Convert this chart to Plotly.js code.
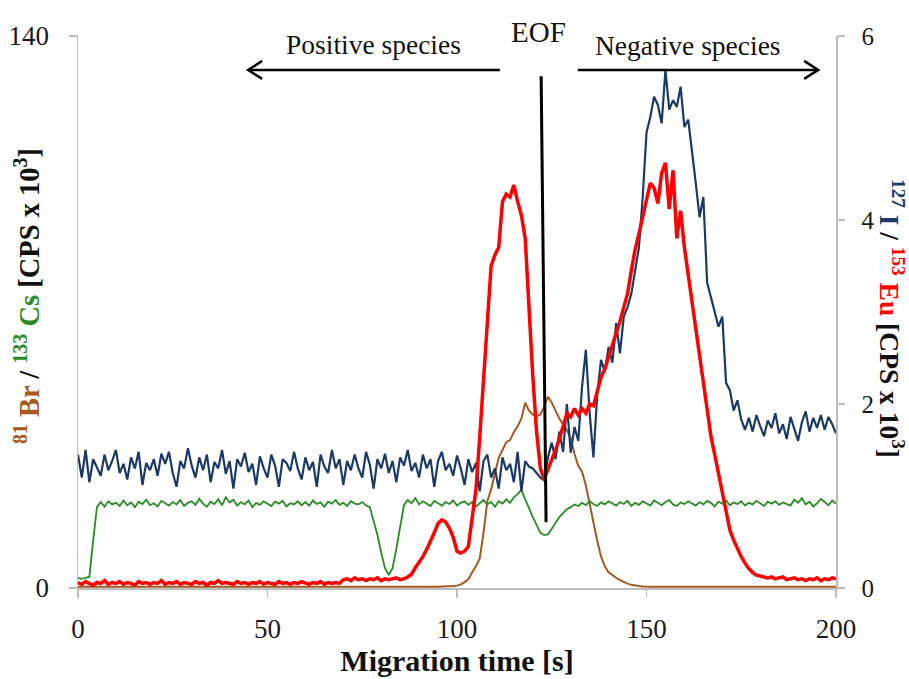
<!DOCTYPE html>
<html>
<head>
<meta charset="utf-8">
<script src="https://cdn.plot.ly/plotly-3.0.1.min.js"></script>
<style>html,body{margin:0;padding:0;background:#fff;}#chart{width:909px;height:679px;}</style>
</head>
<body>
<div id="chart"></div>
<script>
// Migration time: first sample and step (s)
const timeStart = 0;
const timeStep = 1;

const xTicks = [0, 50, 100, 150, 200];
const leftTicks = [0, 140];
const rightTicks = [0, 2, 4, 6];

// 127 I  (right axis, CPS x 10^3)
const iodine = [
  1.45,1.20,1.50,1.15,1.40,1.30,1.22,1.45,1.28,1.38,
  1.50,1.25,1.35,1.18,1.42,1.30,1.48,1.12,1.36,1.28,
  1.40,1.22,1.46,1.35,1.48,1.25,1.10,1.38,1.30,1.52,
  1.33,1.20,1.42,1.28,1.45,1.15,1.37,1.30,1.50,1.24,
  1.38,1.08,1.40,1.32,1.47,1.26,1.35,1.12,1.43,1.30,
  1.20,1.45,1.33,1.10,1.40,1.36,1.27,1.48,1.30,1.18,
  1.42,1.28,1.37,1.10,1.45,1.32,1.25,1.50,1.30,1.40,
  1.12,1.38,1.28,1.45,1.30,1.20,1.48,1.34,1.08,1.40,
  1.30,1.46,1.25,1.38,1.15,1.42,1.33,1.50,1.27,1.36,
  1.20,1.45,1.30,1.40,1.10,1.38,1.48,1.28,1.35,1.22,
  1.44,1.30,1.12,1.40,1.26,1.36,1.05,1.38,1.45,1.20,
  1.30,1.08,1.42,1.28,1.35,1.15,1.48,1.05,1.38,1.32,
  1.30,1.25,1.20,1.17,1.42,1.58,1.40,1.70,1.48,2.00,
  1.47,1.75,1.60,2.19,2.59,1.90,1.42,2.10,2.48,2.35,
  2.62,2.45,2.88,2.55,2.95,3.05,3.20,3.45,3.70,4.25,
  4.95,5.12,5.34,5.25,5.05,5.63,5.20,5.30,5.23,5.45,
  5.01,5.09,4.76,4.40,4.03,4.25,3.32,3.16,3.00,2.84,
  2.95,2.23,2.15,1.93,2.04,1.83,1.72,1.85,1.70,1.88,
  1.76,1.65,1.82,1.74,1.90,1.68,1.78,1.62,1.86,1.72,
  1.60,1.80,1.92,1.70,1.85,1.74,1.88,1.72,1.86,1.78,
  1.68
];

// 153 Eu  (right axis, CPS x 10^3)
const europium = [
  0.06,0.04,0.07,0.05,0.03,0.06,0.05,0.08,0.04,0.06,
  0.05,0.07,0.04,0.06,0.05,0.03,0.07,0.05,0.06,0.04,
  0.06,0.05,0.08,0.04,0.06,0.05,0.07,0.04,0.06,0.05,
  0.04,0.07,0.05,0.06,0.03,0.06,0.05,0.08,0.05,0.06,
  0.05,0.04,0.07,0.05,0.06,0.04,0.06,0.05,0.07,0.04,
  0.06,0.05,0.04,0.07,0.05,0.06,0.04,0.06,0.05,0.07,
  0.05,0.04,0.06,0.05,0.07,0.04,0.06,0.05,0.06,0.05,
  0.09,0.10,0.08,0.11,0.09,0.10,0.08,0.10,0.09,0.11,
  0.08,0.10,0.09,0.10,0.11,0.09,0.10,0.12,0.15,0.22,
  0.28,0.34,0.42,0.50,0.60,0.70,0.74,0.72,0.65,0.55,
  0.40,0.38,0.40,0.45,0.80,1.07,1.64,2.30,2.85,3.50,
  3.62,3.70,4.20,4.28,4.25,4.38,4.20,4.05,3.80,3.00,
  2.30,1.70,1.30,1.18,1.28,1.38,1.50,1.62,1.75,1.90,
  1.86,1.95,1.88,1.95,1.90,2.00,1.98,2.12,2.29,2.38,
  2.51,2.62,2.75,2.90,3.05,3.20,3.45,3.68,3.85,4.03,
  4.25,4.40,4.35,4.18,4.51,4.62,4.12,4.54,3.80,4.10,
  3.70,3.40,3.10,2.85,2.55,2.25,1.95,1.65,1.45,1.25,
  1.05,0.85,0.63,0.52,0.42,0.34,0.27,0.21,0.17,0.14,
  0.13,0.12,0.11,0.12,0.10,0.11,0.12,0.09,0.10,0.11,
  0.09,0.10,0.08,0.10,0.09,0.11,0.08,0.10,0.09,0.11,
  0.10
];

// 133 Cs  (left axis, CPS x 10^3)
const cesium = [
  2.5,2.3,2.6,2.8,12.0,20.5,21.8,20.6,22.0,21.2,
  21.6,20.8,22.2,21.0,21.7,20.5,21.9,21.3,22.4,21.0,
  21.5,20.7,22.1,21.4,20.9,21.8,21.2,22.3,20.8,21.6,
  22.0,21.1,22.6,21.4,20.6,21.9,21.3,22.5,21.0,23.0,
  21.7,22.4,20.9,21.8,21.2,22.2,20.5,21.6,21.1,22.0,
  21.3,20.8,21.9,21.4,22.1,20.7,21.5,21.2,22.0,21.0,
  21.8,20.9,22.2,21.3,21.7,20.6,21.9,21.4,22.3,21.1,
  21.6,20.8,22.0,21.4,21.2,21.8,20.9,20.5,17.0,13.5,
  9.0,5.0,3.3,5.0,10.0,16.0,21.0,22.3,21.5,22.8,
  21.2,22.0,21.4,20.8,22.1,21.5,20.9,21.8,21.3,22.2,
  20.9,21.6,22.0,21.1,21.8,20.7,21.5,22.3,21.2,21.8,
  20.6,22.0,21.4,22.5,21.6,23.0,23.8,24.9,22.5,20.0,
  18.0,16.0,14.0,13.4,13.6,15.0,16.5,18.0,19.0,20.0,
  20.5,21.2,20.8,21.6,21.0,22.0,21.3,20.8,21.7,21.2,
  22.0,21.4,20.9,21.8,21.3,22.1,20.8,21.6,21.1,22.0,
  21.4,20.9,22.2,21.5,21.0,21.8,22.3,21.2,20.8,21.7,
  21.3,22.0,21.5,20.9,21.8,21.2,22.1,21.6,20.7,21.9,
  21.4,22.2,21.0,21.7,21.3,22.0,20.9,21.6,21.2,22.1,
  21.5,20.8,21.9,21.4,22.0,21.1,21.7,21.3,20.9,22.4,
  21.6,22.8,21.2,21.9,20.7,21.5,22.6,21.8,21.0,22.2,
  21.4
];

// 81 Br  (left axis, CPS x 10^3)
const bromine = [
  0.3,0.3,0.2,0.3,0.3,0.3,0.2,0.3,0.3,0.3,
  0.3,0.2,0.3,0.3,0.3,0.3,0.2,0.3,0.3,0.3,
  0.3,0.3,0.2,0.3,0.3,0.3,0.3,0.2,0.3,0.3,
  0.3,0.3,0.3,0.2,0.3,0.3,0.3,0.3,0.2,0.3,
  0.3,0.3,0.3,0.3,0.2,0.3,0.3,0.3,0.3,0.2,
  0.3,0.3,0.2,0.3,0.3,0.3,0.2,0.3,0.3,0.3,
  0.3,0.2,0.3,0.3,0.3,0.3,0.2,0.3,0.3,0.3,
  0.3,0.3,0.2,0.3,0.3,0.3,0.3,0.2,0.3,0.3,
  0.3,0.3,0.3,0.2,0.3,0.3,0.3,0.3,0.3,0.3,
  0.3,0.3,0.3,0.3,0.3,0.3,0.4,0.4,0.5,0.5,
  0.6,0.9,1.5,2.2,4.0,5.5,7.5,14.0,22.0,25.0,
  29.0,33.0,35.0,37.0,37.5,39.5,41.0,43.0,47.0,45.0,
  44.0,43.5,44.0,46.0,48.5,47.0,45.0,43.0,41.5,40.0,
  38.0,34.0,31.0,29.5,26.0,21.0,16.0,12.0,8.0,5.5,
  4.0,3.2,2.6,2.0,1.5,1.1,0.8,0.6,0.5,0.4,
  0.3,0.3,0.3,0.3,0.3,0.3,0.3,0.3,0.3,0.3,
  0.3,0.3,0.3,0.3,0.3,0.3,0.3,0.3,0.3,0.3,
  0.3,0.3,0.3,0.3,0.3,0.3,0.3,0.3,0.3,0.3,
  0.3,0.3,0.3,0.3,0.3,0.3,0.3,0.3,0.3,0.3,
  0.3,0.3,0.3,0.3,0.3,0.3,0.3,0.3,0.3,0.3,
  0.3
];

// EOF marker and migration-direction arrows (time in s, left-axis units)
const eofLine = {t: [122.2, 123.5], v: [129.8, 16.7]};
const arrowLevel = 131.4;
const positiveArrow = [111.3, 44.9];
const negativeArrow = [131.9, 195.3];

const FONT = '"Liberation Serif", "Times New Roman", Times, serif';
const COL = {br: '#A35A22', cs: '#2A8A24', i: '#1B3A66', eu: '#FF0000'};

const traces = [
  {x0: timeStart, dx: timeStep, y: bromine, type: 'scatter', mode: 'lines', yaxis: 'y',
   line: {color: COL.br, width: 2}, name: '81Br', hoverinfo: 'skip'},
  {x0: timeStart, dx: timeStep, y: cesium, type: 'scatter', mode: 'lines', yaxis: 'y',
   line: {color: COL.cs, width: 1.8}, name: '133Cs', hoverinfo: 'skip'},
  {x0: timeStart, dx: timeStep, y: iodine, type: 'scatter', mode: 'lines', yaxis: 'y2',
   line: {color: COL.i, width: 2.2}, name: '127I', hoverinfo: 'skip'},
  {x0: timeStart, dx: timeStep, y: europium, type: 'scatter', mode: 'lines', yaxis: 'y2',
   line: {color: COL.eu, width: 3.5}, name: '153Eu', hoverinfo: 'skip'}
];

const axisGray = '#BDBDBD';
const tickFont = {family: FONT, size: 27, color: '#1a1a1a'};

const layout = {
  width: 909, height: 679,
  margin: {l: 78, r: 73, t: 36, b: 91},
  paper_bgcolor: '#ffffff', plot_bgcolor: '#ffffff',
  font: {family: FONT},
  showlegend: false,
  xaxis: {
    range: [0, 200], tickvals: xTicks, showgrid: false, zeroline: false,
    showline: true, linecolor: axisGray, linewidth: 1.5,
    ticks: 'outside', ticklen: 8, tickcolor: axisGray, tickwidth: 1.5,
    ticklabelstandoff: 8,
    tickfont: tickFont,
    title: {text: '<b>Migration time [s]</b>', font: {family: FONT, size: 30, color: '#111'}, standoff: 2},
    automargin: false
  },
  yaxis: {
    range: [0, 140], tickvals: leftTicks, showgrid: false, zeroline: false,
    showline: true, linecolor: axisGray, linewidth: 1.5,
    ticks: 'outside', ticklen: 8, tickcolor: axisGray, tickwidth: 1.5,
    ticklabelstandoff: 14,
    tickfont: tickFont, automargin: false
  },
  yaxis2: {
    range: [0, 6], tickvals: rightTicks, overlaying: 'y', side: 'right',
    showgrid: false, zeroline: false,
    showline: true, linecolor: axisGray, linewidth: 1.5,
    ticks: 'outside', ticklen: 7, tickcolor: axisGray, tickwidth: 1.5,
    ticklabelstandoff: 12,
    tickfont: {family: FONT, size: 25, color: '#1a1a1a'}, automargin: false
  },
  shapes: [
    {type: 'line', xref: 'x', yref: 'y', x0: eofLine.t[0], x1: eofLine.t[1], y0: eofLine.v[0], y1: eofLine.v[1],
     line: {color: '#000', width: 3}},
    {type: 'line', xref: 'x', yref: 'y', x0: positiveArrow[0], x1: positiveArrow[1], y0: arrowLevel, y1: arrowLevel,
     line: {color: '#000', width: 2.5}},
    {type: 'line', xref: 'x', yref: 'y', x0: negativeArrow[0], x1: negativeArrow[1], y0: arrowLevel, y1: arrowLevel,
     line: {color: '#000', width: 2.5}},
    {type: 'path', xref: 'x', yref: 'y', xsizemode: 'pixel', ysizemode: 'pixel',
     xanchor: positiveArrow[1], yanchor: arrowLevel, path: 'M 14,9 L 0,0 L 14,-9',
     line: {color: '#000', width: 2.5}},
    {type: 'path', xref: 'x', yref: 'y', xsizemode: 'pixel', ysizemode: 'pixel',
     xanchor: negativeArrow[1], yanchor: arrowLevel, path: 'M -14,9 L 0,0 L -14,-9',
     line: {color: '#000', width: 2.5}}
  ],
  annotations: [
    {text: 'Positive species', xref: 'x', yref: 'paper', x: 78, y: (588 - 45) / 552, showarrow: false,
     xanchor: 'center', yanchor: 'middle', font: {family: FONT, size: 27.5, color: '#111'}},
    {text: 'EOF', xref: 'x', yref: 'paper', x: 121.5, y: (588 - 32) / 552, showarrow: false,
     xanchor: 'center', yanchor: 'middle', font: {family: FONT, size: 29, color: '#111'}},
    {text: 'Negative species', xref: 'x', yref: 'paper', x: 161, y: (588 - 46) / 552, showarrow: false,
     xanchor: 'center', yanchor: 'middle', font: {family: FONT, size: 27.5, color: '#111'}},
    {text: '<b><span style="color:' + COL.br + '"><sup>81</sup> Br</span> / <span style="color:' + COL.cs + '"><sup>133</sup> Cs</span> [CPS x 10<sup>3</sup>]</b>',
     xref: 'paper', yref: 'paper', x: 0, y: 0.5, xshift: -51, yshift: 16, textangle: -90,
     showarrow: false, xanchor: 'center', yanchor: 'middle', font: {family: FONT, size: 28.5, color: '#111'}},
    {text: '<b><span style="color:' + COL.i + '"><sup>127</sup> I</span> / <span style="color:' + COL.eu + '"><sup>153</sup> Eu</span> [CPS x 10<sup>3</sup>]</b>',
     xref: 'paper', yref: 'paper', x: 1, y: 0.5, xshift: 56, yshift: -6, textangle: 90,
     showarrow: false, xanchor: 'center', yanchor: 'middle', font: {family: FONT, size: 27.5, color: '#111'}}
  ]
};

Plotly.newPlot('chart', traces, layout, {staticPlot: true, displayModeBar: false});
</script>
</body>
</html>
